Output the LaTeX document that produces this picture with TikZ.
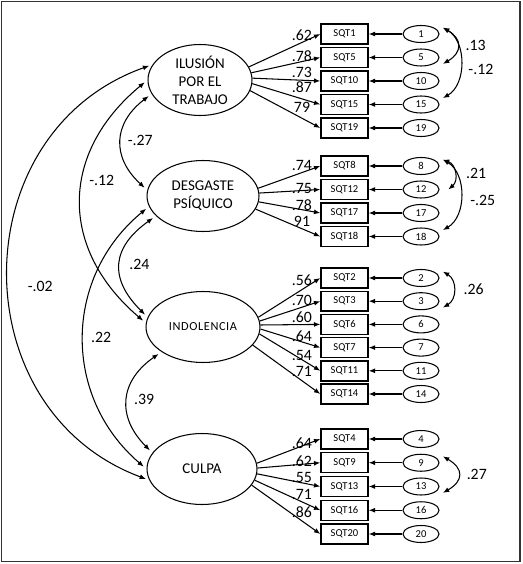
\documentclass[tikz,border=0pt]{standalone}
\usepackage{fontspec}
\setmainfont{Carlito}
\usepackage{tikz}
\usetikzlibrary{positioning, shapes.geometric, arrows.meta, calc}
\definecolor{ink}{HTML}{000000}
\definecolor{rim}{HTML}{333333}

\begin{document}
\begin{tikzpicture}[x=0.02cm, y=-0.02cm, font=\fontsize{9}{10}\selectfont,
  factor/.style={ellipse, draw=ink, line width=0.6pt, inner sep=0pt,
    minimum width=2.2cm, minimum height=1.42cm, align=center,
    font=\fontsize{8.5}{10.2}\selectfont},
  item/.style={rectangle, draw=ink, line width=0.8pt, inner sep=0pt,
    minimum width=0.94cm, minimum height=0.4cm, font=\fontsize{6}{7}\selectfont},
  err/.style={ellipse, draw=ink, line width=0.6pt, inner sep=0pt,
    minimum width=0.72cm, minimum height=0.34cm, font=\fontsize{6}{7}\selectfont},
  load/.style={-{Latex[length=3.6pt,width=2.8pt]}, line width=0.6pt},
  cov/.style={{Latex[length=3.6pt,width=2.8pt]}-{Latex[length=3.6pt,width=2.8pt]},
    line width=0.6pt}]
  \useasboundingbox (0,0) rectangle (523,564);
  \draw[rim, line width=1.1pt] (1.5,1.5) rectangle (520,561.5);

  % Factors
  \node[factor, minimum width=2.08cm] (ilu) at (200,80) {ILUSIÓN\\POR EL\\TRABAJO};
  \node[factor, minimum width=2.24cm] (des) at (203,196) {DESGASTE\\PSÍQUICO};
  \node[factor, minimum width=2.28cm, font=\fontsize{7}{8}\selectfont\addfontfeature{LetterSpace=5}]
    (ind) at (203,327) {INDOLENCIA};
  \node[factor] (cul) at (202,469) {CULPA};

  % Items and errors
  \foreach \n/\y in {1/34, 5/57.5, 10/81, 15/104.5, 19/128,
                     8/166, 12/189.5, 17/213, 18/236.5,
                     2/278, 3/301.2, 6/324.4, 7/347.6, 11/370.8, 14/394,
                     4/439, 9/462.75, 13/486.5, 16/510.25, 20/534} {
    \node[item] (sqt\n) at (344.5,\y) {SQT\n};
    \node[err] (e\n) at (421,\y) {\n};
    \draw[load] (e\n) -- (sqt\n);
  }

  % Loadings
  \foreach \f/\n/\a/\v/\ly in {ilu/1/15/.62/35, ilu/5/8/.78/56, ilu/10/2/.73/72,
      ilu/15/-4/.87/87, ilu/19/-12/79/107.5,
      des/8/8/.74/165, des/12/3/.75/188, des/17/-6/.78/205, des/18/-14/91/221,
      ind/2/10/.56/280, ind/3/6/.70/300, ind/6/2/.60/317, ind/7/-2/.64/336,
      ind/11/-7/.54/355, ind/14/-20/.71/371,
      cul/4/6/.64/443, cul/9/1/.62/461, cul/13/-5/.55/477, cul/16/-12/.71/494,
      cul/20/-18/.86/512} {
    \node at (302,\ly) {\v};
    \draw[load] (\f.\a) -- (sqt\n.west);
  }

  % Error covariances
  \draw[cov] ([xshift=5pt]e1.north east) to[bend left=60, looseness=1.6]
    node[right=1pt] {.13} ([xshift=5pt]e5.south east);
  \draw[cov] ([xshift=5pt]e1.north east) to[bend left=60, looseness=1.0]
    node[pos=0.58, right=1pt] {-.12} ([xshift=5pt]e15.north east);
  \draw[cov] ([xshift=5pt]e8.north east) to[bend left=60, looseness=1.18]
    node[right=3pt] {.21} ([xshift=5pt]e12.east);
  \draw[cov] ([xshift=5pt]e8.north east) to[bend left=60, looseness=1.0]
    node[pos=0.57, right=2pt] {-.25} ([xshift=5pt]e18.north east);
  \draw[cov] ([xshift=5pt]e2.north east) to[bend left=60, looseness=1.18]
    node[right=2pt] {.26} ([xshift=5pt]e3.south east);
  \draw[cov] ([xshift=5pt]e9.north east) to[bend left=60, looseness=1.7]
    node[right=1pt] {.27} ([xshift=5pt]e13.south east);

  % Factor covariances
  \begin{scope}[shorten >=2pt, shorten <=2pt]
    \draw[cov] (ilu.196) to[bend right=50, looseness=1.29]
      node[right=0pt] {-.27} (des.174);
    \draw[cov] (ilu.180) to[bend right=50, looseness=1.2]
      node[pos=0.42, right=0pt] {-.12} (ind.176);
    \draw[cov] (des.203) to[bend right=50, looseness=1.38]
      node[right=1.5pt] {.24} (ind.170);
    \draw[cov] (des.191) to[bend right=50, looseness=1.08]
      node[right=0.5pt] {.22} (cul.180);
    \draw[cov] (ind.211) to[bend right=50, looseness=1.29]
      node[right=0pt] {.39} (cul.162);
    \draw[cov] (ilu.162) to[bend right=70, looseness=1.24]
      node[pos=0.53, right=7pt] {-.02} (cul.192.5);
  \end{scope}
\end{tikzpicture}
\end{document}
